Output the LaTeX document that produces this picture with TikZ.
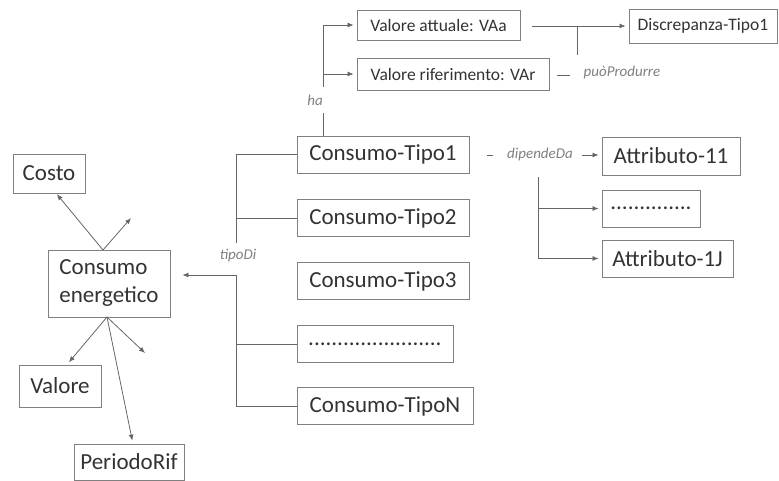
\documentclass[tikz,border=0pt]{standalone}
\usepackage{fontspec}
\setmainfont{Carlito}
\usetikzlibrary{positioning}
\usetikzlibrary{arrows.meta}

\begin{document}
\begin{tikzpicture}[
        x=1pt, y=-1pt,
        concept box/.style={draw=black!50, line width=0.9pt, text=black!80, inner sep=0pt,
            font=\fontsize{23}{28}\selectfont, minimum height=37pt},
        value box/.style={draw=black!50, line width=0.9pt, text=black!80, inner sep=0pt,
            font=\fontsize{17.5}{21}\selectfont, minimum height=31pt},
        rel label/.style={font=\fontsize{15}{18}\selectfont\itshape, text=black!50, fill=white, inner sep=2pt},
        link/.style={draw=black!60, line width=0.8pt},
        arrow/.style={link, -{Latex[length=6pt,width=5pt]}, shorten >=3pt},
    ]

    \useasboundingbox (0,0) rectangle (779,481);

    % Consumo energetico and its attributes
    \node[concept box, align=left, minimum width=122, minimum height=67] (consumo) at (109,283.5) {Consumo\\energetico};
    \node[concept box, minimum width=72, minimum height=39] (costo) at (49,173.5) {Costo};
    \node[concept box, minimum width=82, minimum height=42] (valore) at (60,386) {Valore};
    \node[concept box, minimum width=110, minimum height=36] (periodo) at (129,462) {PeriodoRif};

    \coordinate (ctop) at (103,250);
    \coordinate (cbot) at (107,317);
    \coordinate (free1) at (131,218);
    \coordinate (free2) at (145,353);

    \draw[arrow, shorten >=1pt] (ctop) -- (costo.-70);
    \draw[arrow, shorten >=0pt] (ctop) -- (free1);
    \draw[arrow] (cbot) -- (valore.72);
    \draw[arrow, shorten >=0pt] (cbot) -- (free2);
    \draw[arrow] (cbot) -- (periodo.78);

    % Consumo types
    \node[concept box, minimum width=172] (tipo1) at (383,154.5) {Consumo-Tipo1};
    \node[concept box, minimum width=172] (tipo2) at (383,218) {Consumo-Tipo2};
    \node[concept box, minimum width=172] (tipo3) at (383,281) {Consumo-Tipo3};
    \node[concept box, minimum width=156] (tipodots) at (375,344) {.......................};
    \node[concept box, minimum width=176] (tipoN) at (385,406) {Consumo-TipoN};

    % tipoDi tree
    \coordinate (tdA) at (236,243);
    \coordinate (tdB) at (236,275);
    \draw[link] (tdA) |- (tipo1.west);
    \draw[link] (tdB) |- (tipoN.west);
    \draw[link] (tipo2.west) -- (tipo2.west -| tdA);
    \draw[link] (tipodots.west) -- (tipodots.west -| tdA);
    \draw[arrow, shorten >=12pt] (tdB) -- (tdB -| consumo.east);
    \node[rel label] (tipodi) at (238,256) {tipoDi};

    % values of Consumo-Tipo1
    \node[value box, minimum width=163, minimum height=30] (va) at (438.5,25) {Valore attuale: VAa};
    \node[value box, minimum width=192, minimum height=32] (vr) at (453,74) {Valore riferimento: VAr};
    \node[value box, minimum width=148, minimum height=34] (disc) at (703,26) {Discrepanza-Tipo1};

    \coordinate (haA) at (323,113);
    \coordinate (haB) at (323,87);
    \draw[link] (haA) -- (haA |- tipo1.north);
    \draw[arrow] (haB) |- (va.west);
    \draw[arrow] (vr.west -| haB) -- (vr.west);
    \node[rel label, fill=none] (ha) at (315,100) {ha};

    % puoProdurre
    \coordinate (ppS) at (532,26);
    \coordinate (ppJ) at (577,26);
    \coordinate (ppD) at (577,55);
    \coordinate (ppL) at (557,75);
    \draw[arrow] (ppS) -- (ppS -| disc.west);
    \draw[link] (ppJ) -- (ppD);
    \node[rel label] (produrre) at (622,73) {puòProdurre};
    \draw[link] (ppL) -- ++(13,0);

    % attributes of Consumo-Tipo1
    \node[concept box, minimum width=138, minimum height=38] (a11) at (671,156) {Attributo-11};
    \node[concept box, minimum width=98] (adots) at (651,208.5) {..............};
    \node[concept box, minimum width=131] (a1j) at (667.5,258.5) {Attributo-1J};

    \coordinate (dpS) at (487,155);
    \coordinate (dpE) at (582,155);
    \coordinate (dpV) at (538,177);
    \draw[link] (dpS) -- ++(6,0);
    \node[rel label, fill=none] (dipende) at (540,155) {dipendeDa};
    \draw[arrow] (dpE) -- (dpE -| a11.west);
    \draw[link] (dpV) -- (dpV |- adots.west);
    \draw[arrow] (dpV |- adots.west) |- (a1j.west);
    \draw[arrow] (dpV |- adots.west) -- (adots.west);

\end{tikzpicture}
\end{document}
